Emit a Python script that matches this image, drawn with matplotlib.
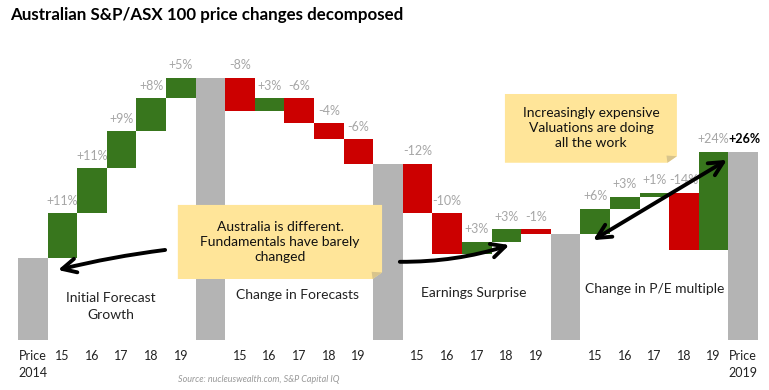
"""Waterfall of Australian S&P/ASX 100 price changes, split into four drivers."""
import matplotlib
matplotlib.use("Agg")
import matplotlib.pyplot as plt
from matplotlib.patches import Polygon

# values (index units, start bar = 20)
start_level = 20
groups = ["Initial Forecast\nGrowth", "Change in Forecasts", "Earnings Surprise", "Change in P/E multiple"]
years = ["15", "16", "17", "18", "19"]
deltas = [
    [11, 11, 9, 8, 5],
    [-8, 3, -6, -4, -6],
    [-12, -10, 3, 3, -1],
    [6, 3, 1, -14, 24],
]
notes = [
    "Australia is different.\nFundamentals have barely\nchanged",
    "Increasingly expensive\nValuations are doing\nall the work",
]

GRAY = "#b4b4b4"
GREEN = "#38761d"
RED = "#cc0000"
LABEL = "#a6a6a6"
NOTE = "#ffe599"
FOLD = "#d8c48c"

plt.rcParams["font.family"] = ["Lato", "DejaVu Sans"]

fig = plt.figure(figsize=(7.69, 3.90), dpi=100)
ax = fig.add_axes([18 / 769, 50 / 390, 740 / 769, 307 / 390])

# build the waterfall
ticks = ["Price\n2014"]
level = start_level
x = 0
ax.bar(x, level, width=1.0, color=GRAY, zorder=2)
group_x = []
for gi, steps in enumerate(deltas):
    first = x + 1
    for year, d in zip(years, steps):
        x += 1
        new = level + d
        ax.bar(x, d, bottom=level, width=1.0, color=GREEN if d > 0 else RED, zorder=2)
        ax.text(x, max(level, new) + 1.6, f"{d:+d}%", ha="center", va="bottom",
                color=LABEL, fontsize=9, zorder=3)
        ticks.append(year)
        level = new
    group_x.append((first + x) / 2)
    x += 1
    ax.bar(x, level, width=1.0, color=GRAY, zorder=2)
    ticks.append("" if gi < len(deltas) - 1 else "Price\n2019")

# total change over the whole period
ax.text(x + 0.05, level + 1.6, f"{level - start_level:+d}%", ha="center", va="bottom",
        color="black", fontsize=9, fontweight="bold", zorder=3)

# group captions
offsets = [(-0.36, 8.3), (-0.07, 11.0), (-0.1, 11.5), (0.0, 12.5)]
for name, gx, (dx, gy) in zip(groups, group_x, offsets):
    ax.text(gx + dx, gy, name, ha="center", va="center", fontsize=10, color="#222222",
            linespacing=1.5, zorder=3)


def sticky(x0, x1, y0, y1, text):
    cx, cy = 0.32, 1.6
    ax.add_patch(Polygon([(x0, y0), (x1 - cx, y0), (x1, y0 + cy), (x1, y1), (x0, y1)],
                         closed=True, facecolor=NOTE, edgecolor="none", zorder=4))
    ax.add_patch(Polygon([(x1 - cx, y0), (x1, y0 + cy), (x1 - cx * 1.1, y0 + cy * 1.1)],
                         closed=True, facecolor=FOLD, edgecolor="none", zorder=5))
    ax.text((x0 + x1) / 2, (y0 + y1) / 2, text, ha="center", va="center", fontsize=10,
            color="#111111", linespacing=1.3, zorder=6)


sticky(4.9, 11.8, 14.9, 33.0, notes[0])
sticky(15.95, 21.76, 43.3, 60.1, notes[1])

# hand-drawn style arrows
arrow = dict(lw=2.8, color="black", shrinkA=0, shrinkB=0)
head = "head_length=1.0,head_width=0.5"
ax.annotate("", xy=(0.85, 17.1), xytext=(4.47, 22.0),
            arrowprops=dict(arrowstyle="->," + head,
                            connectionstyle="arc3,rad=0.03", **arrow), zorder=7)
ax.annotate("", xy=(16.1, 23.2), xytext=(12.4, 19.1),
            arrowprops=dict(arrowstyle="->," + head,
                            connectionstyle="arc3,rad=0.08", **arrow), zorder=7)
ax.annotate("", xy=(23.45, 44.0), xytext=(18.93, 24.4),
            arrowprops=dict(arrowstyle="<->," + head, **arrow), zorder=7)

ax.set_xlim(-0.5, len(ticks) - 0.5)
ax.set_ylim(0, 75)
ax.set_xticks(range(len(ticks)))
ax.set_xticklabels(ticks, fontsize=9, color="#222222", linespacing=1.5)
ax.tick_params(axis="x", length=0, pad=7)
ax.set_yticks([])
for s in ax.spines.values():
    s.set_visible(False)

fig.text(10 / 769, 1 - 15 / 390, "Australian S&P/ASX 100 price changes decomposed",
         fontsize=12.2, fontweight="bold", ha="left", va="center")
fig.text(178 / 769, 1 - 379 / 390, "Source: nucleuswealth.com, S&P Capital IQ",
         fontsize=6.5, style="italic", color="#999999", ha="left", va="center")

fig.savefig("out.png", dpi=100)
